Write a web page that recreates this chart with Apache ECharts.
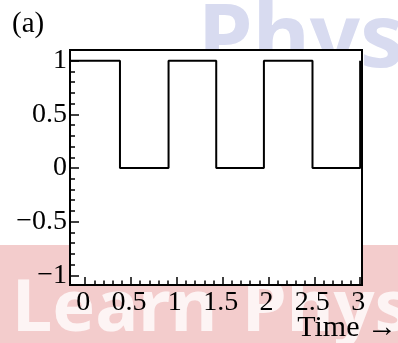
<!DOCTYPE html>
<html>
<head>
<meta charset="utf-8">
<script src="https://cdn.jsdelivr.net/npm/echarts@6/dist/echarts.min.js"></script>
<style>html,body{margin:0;padding:0;background:#fff;}#chart{width:398px;height:343px;}</style>
</head>
<body>
<div id="chart"></div>
<script>
// ---- data ----
const switchTimes = [0.38, 0.91, 1.43, 1.95, 2.48, 3.0];
const levels = [1, 0, 1, 0, 1, 0, 1];
const xMajorTicks = [0, 0.5, 1, 1.5, 2, 2.5, 3];
const xTickLabels = ['0', '0.5', '1', '1.5', '2', '2.5', '3'];
const yMajorTicks = [-1, -0.5, 0, 0.5, 1];
const yTickLabels = ['\u22121', '\u22120.5', '0', '0.5', '1'];
const xRange = [-0.165, 3.02];
const yRange = [-1.09, 1.1];
const xTitle = 'Time \u2192';

// ---- build ----
const wave = [[xRange[0], levels[0]]];
switchTimes.forEach((t, i) => wave.push([t, levels[i + 1]]));

function minorTicks(a, b, step, majors) {
  const out = [];
  for (let v = a; v <= b + 1e-9; v += step) {
    const r = Math.round(v * 100) / 100;
    if (!majors.some(m => Math.abs(m - r) < 1e-6)) out.push(r);
  }
  return out;
}
const xMinor = minorTicks(0, 3, 0.1, xMajorTicks);
const yMinor = minorTicks(-1, 1, 0.1, yMajorTicks);

const font = 'Liberation Serif';
const noLine = {show: false, onZero: false};
const chart = echarts.init(document.getElementById('chart'), null, {renderer: 'canvas'});
chart.setOption({
  animation: false,
  backgroundColor: '#fff',
  title: {text: '(a)', left: 7, top: 5, textStyle: {fontFamily: font, fontSize: 29, fontWeight: 'normal', color: '#000'}},
  graphic: [
    {type: 'rect', z: -10, shape: {x: 0, y: 245, width: 398, height: 98}, style: {fill: '#f3cccc'}},
    {type: 'text', z: -9, x: 12, y: 310, style: {text: 'Learn', font: 'bold 72px "Noto Sans"', fill: '#fdf4f4', verticalAlign: 'middle', align: 'left'}},
    {type: 'text', z: -9, x: 242, y: 310, style: {text: 'Physics', font: 'bold 72px "Noto Sans"', fill: '#fdf4f4', verticalAlign: 'middle', align: 'left'}},
    {type: 'text', z: -9, x: 198, y: 42, style: {text: 'Phys', font: 'bold 88px "Noto Sans"', fill: '#d8dbf0', verticalAlign: 'middle', align: 'left'}},
    {type: 'text', z: 10, x: 397, y: 313, style: {text: xTitle, font: '30px "Liberation Serif"', fill: '#000', verticalAlign: 'top', align: 'right'}}
  ],
  grid: {left: 70, top: 50, right: 36, bottom: 58, show: true, backgroundColor: '#fff', borderColor: '#000', borderWidth: 2, containLabel: false, outerBoundsMode: 'none'},
  xAxis: [
    {type: 'value', position: 'bottom', min: xRange[0], max: xRange[1],
     axisLine: noLine, splitLine: {show: false},
     axisTick: {show: true, inside: true, length: 8, customValues: xMajorTicks, lineStyle: {color: '#000', width: 1.5}},
     axisLabel: {show: true, customValues: xMajorTicks, margin: 4, padding: [0, 4, 0, 0],
       formatter: v => xTickLabels[xMajorTicks.findIndex(m => Math.abs(m - v) < 1e-6)],
       fontFamily: font, fontSize: 28, color: '#000'}},
    {type: 'value', position: 'bottom', min: xRange[0], max: xRange[1],
     axisLine: noLine, splitLine: {show: false}, axisLabel: {show: false},
     axisTick: {show: true, inside: true, length: 4.5, customValues: xMinor, lineStyle: {color: '#000', width: 1.5}}}
  ],
  yAxis: [
    {type: 'value', position: 'left', min: yRange[0], max: yRange[1],
     axisLine: noLine, splitLine: {show: false},
     axisTick: {show: true, inside: true, length: 9, customValues: yMajorTicks, lineStyle: {color: '#000', width: 1.5}},
     axisLabel: {show: true, customValues: yMajorTicks, margin: 3, padding: [7, 0, 0, 0],
       formatter: v => yTickLabels[yMajorTicks.findIndex(m => Math.abs(m - v) < 1e-6)],
       fontFamily: font, fontSize: 28, color: '#000'}},
    {type: 'value', position: 'left', min: yRange[0], max: yRange[1],
     axisLine: noLine, splitLine: {show: false}, axisLabel: {show: false},
     axisTick: {show: true, inside: true, length: 5, customValues: yMinor, lineStyle: {color: '#000', width: 1.5}}}
  ],
  series: [{
    type: 'line', xAxisIndex: 0, yAxisIndex: 0, data: wave, step: 'end', showSymbol: false,
    lineStyle: {color: '#000', width: 2}, clip: true
  }]
});
</script>
</body>
</html>
